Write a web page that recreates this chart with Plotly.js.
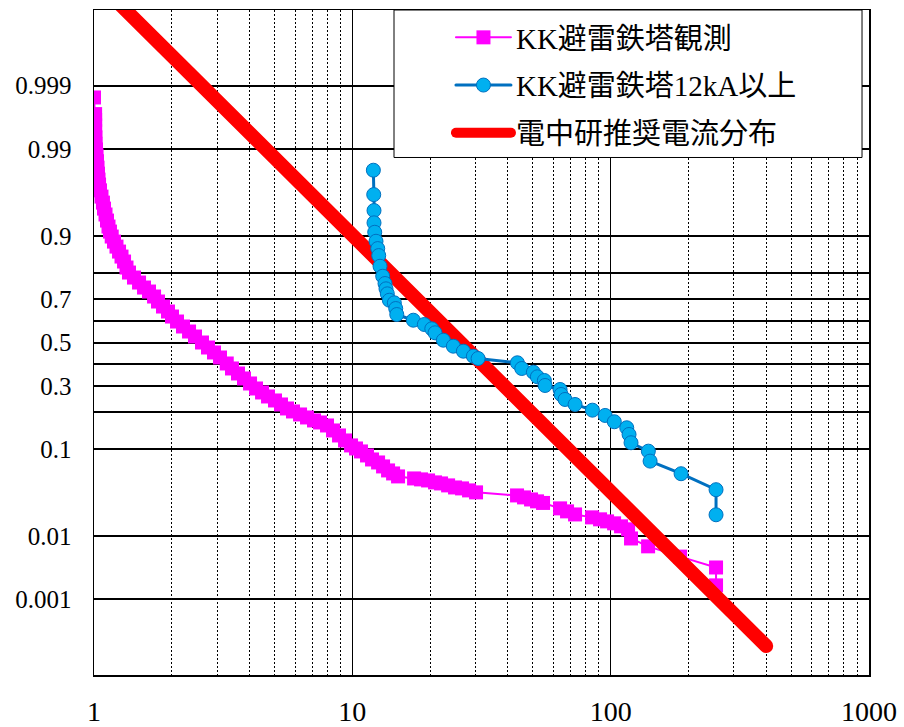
<!DOCTYPE html>
<html><head><meta charset="utf-8">
<script src="https://cdn.plot.ly/plotly-3.0.1.min.js"></script>
<style>
html,body{margin:0;padding:0;background:#fff}
#chart{width:904px;height:727px}
path.js-line{stroke-linecap:round}
</style>
</head><body><div id="chart"></div>
<script>
// ---- data: current (kA) and exceedance probability ----
const seriesNames = ['KK避雷鉄塔観測', 'KK避雷鉄塔12kA以上', '電中研推奨電流分布'];

const obsCurrent = [1.00,1.01,1.01,1.01,1.01,1.013,1.013,1.018,1.023,1.027,1.032,1.036,1.041,1.046,1.055,1.069,1.083,1.093,1.108,1.123,
  1.138,1.153,1.171,1.195,1.222,1.250,1.278,1.307,1.336,1.366,1.428,1.494,1.562,1.633,1.708,1.769,1.850,1.934,2.004,2.096,
  2.211,2.333,2.460,2.619,2.763,2.914,3.075,3.265,3.422,3.610,3.808,4.018,4.238,4.472,4.717,5.020,5.296,5.587,5.894,6.275,
  6.678,7.107,7.498,7.981,8.420,8.882,9.370,9.885,10.33,10.80,11.40,11.92,12.58,13.15,13.75,14.38,15.03,17.34,18.45,19.64,
  20.90,22.05,23.48,24.98,26.59,28.30,30.12,43.41,46.20,49.18,51.88,54.73,63.70,67.79,72.80,84.74,90.97,96.84,103.1,109.7,
  116.8,119.9,139.6,185.7,255.8,255.8];
const obsProb = [0.9984,0.9970,0.9963,0.9955,0.9945,0.9932,0.9916,0.9899,0.9878,0.9854,0.9823,0.9789,0.975,0.9713,0.9664,0.9604,0.9538,0.9464,0.9382,0.9288,
  0.9185,0.9090,0.8988,0.8876,0.8757,0.8630,0.8494,0.8350,0.8164,0.8000,0.7827,0.7647,0.7458,0.7301,0.7099,0.6890,0.6674,0.6453,0.6227,0.5997,
  0.5763,0.5526,0.5287,0.5000,0.4760,0.4522,0.4284,0.4003,0.3773,0.3547,0.3326,0.3110,0.2901,0.2739,0.2581,0.2428,0.2280,0.2137,0.2034,0.1933,
  0.1836,0.1742,0.1680,0.1591,0.1450,0.1317,0.1193,0.1078,0.1012,0.0950,0.0871,0.0797,0.0745,0.0680,0.0619,0.0576,0.0536,0.0510,0.0498,0.0485,
  0.0462,0.0450,0.0428,0.0406,0.0396,0.0376,0.0357,0.0329,0.0312,0.0295,0.0280,0.0268,0.0230,0.0211,0.0193,0.0177,0.0167,0.0157,0.0148,0.0135,
  0.0123,0.0092,0.0071,0.0050,0.0034,0.00174];

const bigCurrent = [12.06,12.10,12.13,12.13,12.21,12.35,12.54,12.65,12.80,13.11,13.38,13.50,13.66,13.91,14.54,14.72,14.86,17.22,19.00,20.30,
  20.90,22.51,24.60,26.90,29.41,30.67,43.53,45.27,50.21,52.03,55.38,55.73,63.70,64.27,66.60,72.80,84.97,95.21,103.3,115.4,
  117.8,119.9,139.9,142.1,187.3,255.8,255.8];
const bigProb = [0.9809,0.9624,0.9438,0.9250,0.9076,0.8884,0.8708,0.8522,0.8205,0.7873,0.7610,0.7408,0.7209,0.6945,0.6834,0.6587,0.6318,0.6057,0.5857,0.5654,
  0.5464,0.5110,0.4823,0.4583,0.4346,0.4237,0.4036,0.3773,0.3605,0.3400,0.3239,0.3026,0.2860,0.2659,0.2466,0.2280,0.2078,0.1901,0.1702,0.1525,
  0.1343,0.1139,0.0956,0.0768,0.0572,0.0383,0.0191];

const criepiCurrent = [1.0, 400];
const criepiProb = [0.999994, 0.00013];

// ---- axis ticks ----
const yTickProbs = [0.001, 0.01, 0.1, 0.2, 0.3, 0.4, 0.5, 0.6, 0.7, 0.8, 0.9, 0.99, 0.999];
const yTickText  = ['0.001', '0.01', '0.1', '', '0.3', '', '0.5', '', '0.7', '', '0.9', '0.99', '0.999'];
const xTickVals = [1, 10, 100, 1000];
const xTickText = ['1', '10', '100', '1000'];

// normal probability scale (inverse standard normal CDF, Acklam)
function normInv(p) {
  const a = [-3.969683028665376e+01, 2.209460984245205e+02, -2.759285104469687e+02, 1.383577518672690e+02, -3.066479806614716e+01, 2.506628277459239e+00];
  const b = [-5.447609879822406e+01, 1.615858368580409e+02, -1.556989798598866e+02, 6.680131188771972e+01, -1.328068155288572e+01];
  const c = [-7.784894002430293e-03, -3.223964580411365e-01, -2.400758277161838e+00, -2.549671010229583e+00, 4.374664141464968e+00, 2.938163982698783e+00];
  const d = [7.784695709041462e-03, 3.224671290700398e-01, 2.445134137142996e+00, 3.754408661907416e+00];
  const plow = 0.02425, phigh = 1 - plow;
  let q, r;
  if (p < plow) {
    q = Math.sqrt(-2 * Math.log(p));
    return (((((c[0]*q+c[1])*q+c[2])*q+c[3])*q+c[4])*q+c[5]) / ((((d[0]*q+d[1])*q+d[2])*q+d[3])*q+1);
  } else if (p <= phigh) {
    q = p - 0.5; r = q*q;
    return (((((a[0]*r+a[1])*r+a[2])*r+a[3])*r+a[4])*r+a[5])*q / (((((b[0]*r+b[1])*r+b[2])*r+b[3])*r+b[4])*r+1);
  } else {
    q = Math.sqrt(-2 * Math.log(1 - p));
    return -(((((c[0]*q+c[1])*q+c[2])*q+c[3])*q+c[4])*q+c[5]) / ((((d[0]*q+d[1])*q+d[2])*q+d[3])*q+1);
  }
}
const z = arr => arr.map(normInv);

const serif = 'Liberation Serif, Times New Roman, Noto Sans CJK JP, serif';

const traces = [
  {
    x: obsCurrent, y: z(obsProb), name: seriesNames[0], legendgroup: 'g1', legendrank: 1,
    mode: 'lines+markers', type: 'scatter',
    line: {color: '#FF00FF', width: 2},
    marker: {symbol: 'square', size: 14, color: '#FF00FF', line: {width: 0}}
  },
  {
    x: criepiCurrent, y: z(criepiProb), name: seriesNames[2], legendgroup: 'g3', legendrank: 3,
    mode: 'lines', type: 'scatter',
    line: {color: '#FF0000', width: 14}
  },
  {
    x: bigCurrent, y: z(bigProb), name: seriesNames[1], legendgroup: 'g2', legendrank: 2,
    mode: 'lines+markers', type: 'scatter',
    line: {color: '#0070C0', width: 3},
    marker: {symbol: 'circle', size: 14, color: '#00B0F0', line: {width: 1, color: '#0070C0'}}
  }
];

const layout = {
  width: 904, height: 727,
  margin: {l: 94, r: 35, t: 10, b: 52},
  paper_bgcolor: '#ffffff', plot_bgcolor: '#ffffff',
  font: {family: serif, color: '#000'},
  showlegend: true,
  legend: {
    x: 0.4606, xanchor: 'left', y: 0.997, yanchor: 'top',
    bgcolor: 'rgba(0,0,0,0)', borderwidth: 0,
    font: {family: serif, size: 29, color: '#000'},
    itemwidth: 55, traceorder: 'grouped', tracegroupgap: 7
  },
  shapes: [{
    type: 'rect', xref: 'paper', yref: 'paper', layer: 'above',
    x0: 0.3871, x1: 0.991, y0: 0.7782, y1: 1.0,
    fillcolor: '#ffffff', line: {color: '#000', width: 1}
  }],
  xaxis: {
    type: 'log', range: [0, 3],
    tickmode: 'array', tickvals: xTickVals, ticktext: xTickText,
    ticks: '', ticklabelstandoff: 11,
    tickfont: {family: serif, size: 28, color: '#000'},
    showgrid: true, gridcolor: '#000', gridwidth: 1,
    minor: {dtick: 'D1', showgrid: true, gridcolor: '#000', gridwidth: 1, griddash: '2px,2px', ticks: ''},
    showline: true, mirror: true, linecolor: '#000', linewidth: 1.5,
    zeroline: false
  },
  yaxis: {
    type: 'linear', range: [-4, 4],
    tickmode: 'array', tickvals: z(yTickProbs), ticktext: yTickText,
    ticks: '', ticklabelstandoff: 16,
    tickfont: {family: serif, size: 25, color: '#000'},
    showgrid: true, gridcolor: '#000', gridwidth: 2,
    showline: true, mirror: true, linecolor: '#000', linewidth: 1.5,
    zeroline: false
  }
};

Plotly.newPlot('chart', traces, layout, {displayModeBar: false, staticPlot: true});
</script>
</body></html>
